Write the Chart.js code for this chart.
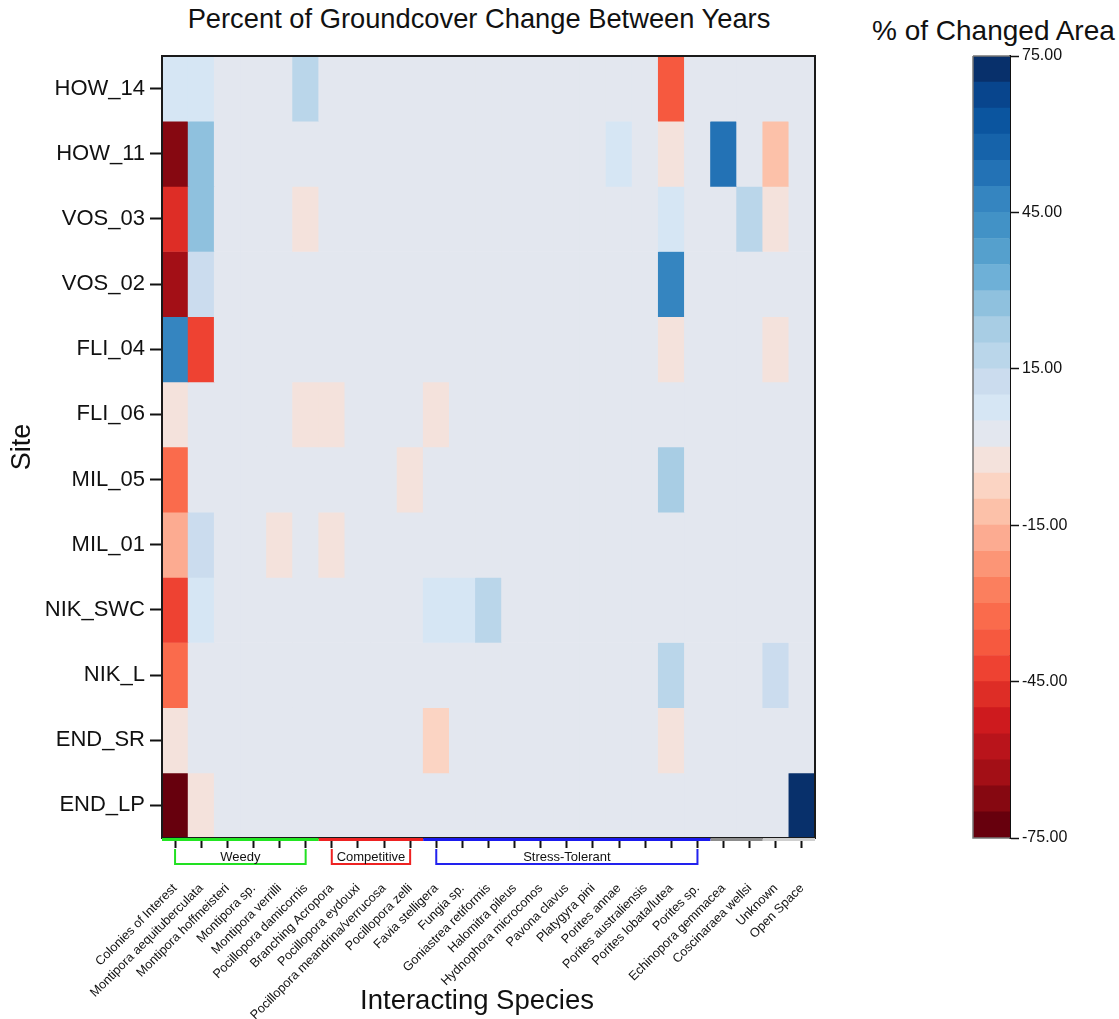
<!DOCTYPE html>
<html>
<head>
<meta charset="utf-8">
<title>Percent of Groundcover Change Between Years</title>
<script src="https://cdn.jsdelivr.net/npm/chart.js@4/dist/chart.umd.min.js"></script>
<style>
  html, body { margin: 0; padding: 0; background: #fff; width: 1119px; height: 1019px; overflow: hidden; position: relative;
    font-family: "Liberation Sans", Arial, sans-serif; }
  canvas { position: absolute; top: 0; }
  #heat { left: 0; }
  #scale { left: 860px; }
  .ttl { position: absolute; white-space: nowrap; color: #111; font-size: 27px; line-height: 32px; }
</style>
</head>
<body>
<div class="ttl" style="left:0; width:958px; text-align:center; top:3px; font-size:27.3px;">Percent of Groundcover Change Between Years</div>
<div class="ttl" style="left:872px; top:15px; font-size:28px;">% of Changed Area</div>
<canvas id="heat" width="960" height="1019" style="width:960px;height:1019px"></canvas>
<canvas id="scale" width="259" height="1019" style="width:259px;height:1019px"></canvas>
<script>
// Sites, top to bottom
const sites = ['HOW_14', 'HOW_11', 'VOS_03', 'VOS_02', 'FLI_04', 'FLI_06',
               'MIL_05', 'MIL_01', 'NIK_SWC', 'NIK_L', 'END_SR', 'END_LP'];

// Interacting species, left to right
const species = ['Colonies of Interest', 'Montipora aequituberculata', 'Montipora hoffmeisteri',
  'Montipora sp.', 'Montipora verrilli', 'Pocillopora damicornis', 'Branching Acropora',
  'Pocillopora eydouxi', 'Pocillopora meandrina/verrucosa', 'Pocillopora zelli', 'Favia stelligera',
  'Fungia sp.', 'Goniastrea retiformis', 'Halomitra pileus', 'Hydnophora microconos', 'Pavona clavus',
  'Platygyra pini', 'Porites annae', 'Porites australiensis', 'Porites lobata/lutea', 'Porites sp.',
  'Echinopora gemmacea', 'Coscinaraea wellsi', 'Unknown', 'Open Space'];

// % of changed area per site, one value per species (same order as above)
const HOW_14  = [  7,   7, 0, 0,  0, 17,  0, 0, 0,  0,  0, 0,  0, 0, 0, 0, 0, 0, 0, -37, 0,  0,  0,   0,  0];
const HOW_11  = [-67,  27, 0, 0,  0,  0,  0, 0, 0,  0,  0, 0,  0, 0, 0, 0, 0, 7, 0,  -2, 0, 52,  0, -12,  0];
const VOS_03  = [-47,  27, 0, 0,  0, -2,  0, 0, 0,  0,  0, 0,  0, 0, 0, 0, 0, 0, 0,   7, 0,  0, 17,  -2,  0];
const VOS_02  = [-62,  12, 0, 0,  0,  0,  0, 0, 0,  0,  0, 0,  0, 0, 0, 0, 0, 0, 0,  47, 0,  0,  0,   0,  0];
const FLI_04  = [ 47, -42, 0, 0,  0,  0,  0, 0, 0,  0,  0, 0,  0, 0, 0, 0, 0, 0, 0,  -2, 0,  0,  0,  -2,  0];
const FLI_06  = [ -2,   0, 0, 0,  0, -2, -2, 0, 0,  0, -2, 0,  0, 0, 0, 0, 0, 0, 0,   0, 0,  0,  0,   0,  0];
const MIL_05  = [-32,   0, 0, 0,  0,  0,  0, 0, 0, -2,  0, 0,  0, 0, 0, 0, 0, 0, 0,  22, 0,  0,  0,   0,  0];
const MIL_01  = [-17,  12, 0, 0, -2,  0, -2, 0, 0,  0,  0, 0,  0, 0, 0, 0, 0, 0, 0,   0, 0,  0,  0,   0,  0];
const NIK_SWC = [-42,   7, 0, 0,  0,  0,  0, 0, 0,  0,  7, 7, 17, 0, 0, 0, 0, 0, 0,   0, 0,  0,  0,   0,  0];
const NIK_L   = [-32,   0, 0, 0,  0,  0,  0, 0, 0,  0,  0, 0,  0, 0, 0, 0, 0, 0, 0,  17, 0,  0,  0,  12,  0];
const END_SR  = [ -2,   0, 0, 0,  0,  0,  0, 0, 0,  0, -7, 0,  0, 0, 0, 0, 0, 0, 0,  -2, 0,  0,  0,   0,  0];
const END_LP  = [-72,  -2, 0, 0,  0,  0,  0, 0, 0,  0,  0, 0,  0, 0, 0, 0, 0, 0, 0,   0, 0,  0,  0,   0, 72];

const rows = [HOW_14, HOW_11, VOS_03, VOS_02, FLI_04, FLI_06, MIL_05, MIL_01, NIK_SWC, NIK_L, END_SR, END_LP];

// Colour scale: 30 steps of 5 % from -75 to 75
const scaleMin = -75, scaleMax = 75, scaleStep = 5;
const scaleTicks = [-75, -45, -15, 15, 45, 75];
const palette = [
  '#67000d', '#860811', '#a30f16', '#b9141b', '#ce1a1e', '#de2d26', '#ee4232', '#f6593f',
  '#fa6b4c', '#fb7f5e', '#fc9576', '#fcab91', '#fcc1a9', '#fbd4c3', '#f4e2dc',
  '#e3e7ef', '#d6e6f4', '#cbdcee', '#bad6ea', '#a8cde4', '#8fc1de', '#6eb0d7', '#55a0cd',
  '#4292c6', '#3585c0', '#2372b5', '#1663aa', '#0b559f', '#08458d', '#08306b'
];

// Functional groups shown under the species axis
const groupNames  = ['Weedy', 'Competitive', 'Stress-Tolerant'];
const groupFirst  = [0, 6, 10];
const groupLast   = [5, 9, 20];
const groupColors = ['#22e022', '#ee2222', '#2222ee'];
// Coloured strip along the species axis
const stripFirst  = [0, 6, 10, 21, 23];
const stripLast   = [5, 9, 20, 22, 24];
const stripColors = ['#22e622', '#ee2222', '#1a1aee', '#8c8c8c', '#cfcfcf'];

const xTitle = 'Interacting Species';

function colorFor(v) {
  let i = Math.floor((v - scaleMin) / scaleStep);
  i = Math.max(0, Math.min(palette.length - 1, i));
  return palette[i];
}

const FONT = '"Liberation Sans", Arial, sans-serif';
Chart.defaults.font.family = FONT;
Chart.defaults.color = '#111';

const heatDecor = {
  id: 'heatDecor',
  afterDraw(chart) {
    const { ctx, chartArea: a, scales: { x } } = chart;
    ctx.save();
    // frame
    ctx.strokeStyle = '#1a1a1a';
    ctx.lineWidth = 2;
    ctx.strokeRect(a.left, a.top, a.right - a.left, a.bottom - a.top);
    // coloured strip along the bottom axis
    ctx.lineWidth = 3;
    for (let i = 0; i < stripFirst.length; i++) {
      const x1 = x.getPixelForValue(stripFirst[i] - 0.5);
      const x2 = x.getPixelForValue(stripLast[i] + 0.5);
      ctx.strokeStyle = stripColors[i];
      ctx.beginPath();
      ctx.moveTo(x1, a.bottom + 1.5);
      ctx.lineTo(x2, a.bottom + 1.5);
      ctx.stroke();
    }
    // group brackets
    const yTop = a.bottom + 11, yBot = a.bottom + 26;
    ctx.lineWidth = 2;
    ctx.font = '13px ' + FONT;
    ctx.textAlign = 'center';
    ctx.textBaseline = 'middle';
    for (let i = 0; i < groupNames.length; i++) {
      const x1 = x.getPixelForValue(groupFirst[i]);
      const x2 = x.getPixelForValue(groupLast[i]);
      ctx.strokeStyle = groupColors[i];
      ctx.beginPath();
      ctx.moveTo(x1, yTop);
      ctx.lineTo(x1, yBot);
      ctx.lineTo(x2, yBot);
      ctx.lineTo(x2, yTop);
      ctx.stroke();
      ctx.fillStyle = '#111';
      ctx.fillText(groupNames[i], (x1 + x2) / 2, (yTop + yBot) / 2 + 0.5);
    }
    // species axis title
    ctx.font = '27.5px ' + FONT;
    ctx.textBaseline = 'middle';
    ctx.fillText(xTitle, 477, 1001);
    ctx.restore();
  }
};

new Chart(document.getElementById('heat'), {
  type: 'bar',
  data: {
    labels: species,
    datasets: sites.map((site, r) => ({
      label: site,
      data: rows[r].map(() => [r - 0.5, r + 0.5]),
      backgroundColor: rows[r].map(colorFor),
      borderWidth: 0,
      grouped: false,
      barPercentage: 1,
      categoryPercentage: 1
    }))
  },
  options: {
    responsive: false,
    animation: false,
    layout: { padding: { top: 56, right: 145, left: 0, bottom: 0 } },
    plugins: { legend: { display: false }, tooltip: { enabled: false } },
    scales: {
      x: {
        type: 'category',
        border: { display: false },
        grid: { offset: false, drawOnChartArea: false, drawTicks: true, tickLength: 10, tickWidth: 2, tickColor: '#111' },
        ticks: { autoSkip: false, minRotation: 45, maxRotation: 45, padding: 33, font: { size: 12.7 }, color: '#111' },
        afterFit(s) { s.height = 181; }
      },
      y: {
        type: 'linear',
        reverse: true,
        min: -0.5,
        max: sites.length - 0.5,
        border: { display: false },
        afterBuildTicks(s) { s.ticks = sites.map((_, i) => ({ value: i })); },
        grid: { drawOnChartArea: false, drawTicks: true, tickLength: 12, tickWidth: 2, tickColor: '#111' },
        ticks: { callback: v => sites[v], padding: 5, font: { size: 22 }, color: '#111' },
        title: { display: true, text: 'Site', font: { size: 27 }, color: '#111', padding: { top: 6, bottom: 0 } },
        afterFit(s) { s.width = 162; }
      }
    }
  },
  plugins: [heatDecor]
});

// colour bar
const binLow = palette.map((_, i) => scaleMin + i * scaleStep);

const barFrame = {
  id: 'barFrame',
  afterDraw(chart) {
    const { ctx, chartArea: a } = chart;
    ctx.save();
    ctx.lineWidth = 1.5;
    ctx.strokeStyle = '#777';
    ctx.beginPath();
    ctx.moveTo(a.left, a.top); ctx.lineTo(a.left, a.bottom); ctx.lineTo(a.right, a.bottom);
    ctx.moveTo(a.left, a.top); ctx.lineTo(a.right, a.top);
    ctx.stroke();
    ctx.restore();
  }
};

new Chart(document.getElementById('scale'), {
  type: 'bar',
  data: {
    labels: ['% of Changed Area'],
    datasets: palette.map((c, i) => ({
      data: [[binLow[i], binLow[i] + scaleStep]],
      backgroundColor: c,
      borderWidth: 0,
      grouped: false,
      barPercentage: 1,
      categoryPercentage: 1
    }))
  },
  options: {
    responsive: false,
    animation: false,
    layout: { padding: { top: 56, left: 113, right: 0, bottom: 181 } },
    plugins: { legend: { display: false }, tooltip: { enabled: false } },
    scales: {
      x: { display: false },
      y: {
        type: 'linear',
        position: 'right',
        min: scaleMin,
        max: scaleMax,
        afterBuildTicks(s) { s.ticks = scaleTicks.map(v => ({ value: v })); },
        border: { display: true, color: '#111', width: 2 },
        grid: { drawOnChartArea: false, drawTicks: true, tickLength: 9, tickWidth: 1.5, tickColor: '#111' },
        ticks: { callback: v => v.toFixed(2), padding: 3, font: { size: 16 }, color: '#111' },
        afterFit(s) { s.width = 109; }
      }
    }
  },
  plugins: [barFrame]
});
</script>
</body>
</html>
